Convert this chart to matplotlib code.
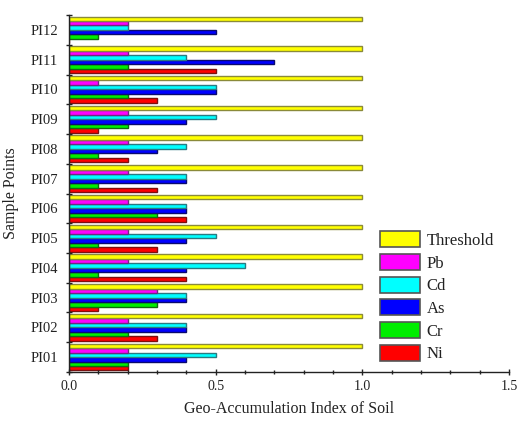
import numpy as np
import matplotlib
matplotlib.use("Agg")
import matplotlib.pyplot as plt
from matplotlib.ticker import MultipleLocator, FixedLocator

plt.rcParams['font.family'] = ['Liberation Serif', 'DejaVu Serif']
plt.rcParams['text.color'] = '#222222'
plt.rcParams['axes.labelcolor'] = '#222222'
plt.rcParams['xtick.color'] = '#222222'
plt.rcParams['ytick.color'] = '#222222'

# sample points, bottom to top
points = ["PI01", "PI02", "PI03", "PI04", "PI05", "PI06",
          "PI07", "PI08", "PI09", "PI10", "PI11", "PI12"]

# values (P01 -> P12)
ni = [0.2, 0.3, 0.1, 0.4, 0.3, 0.4, 0.3, 0.2, 0.1, 0.3, 0.5, 0.0]
cr = [0.2, 0.2, 0.3, 0.1, 0.1, 0.3, 0.1, 0.1, 0.2, 0.2, 0.2, 0.1]
as_ = [0.4, 0.4, 0.4, 0.4, 0.4, 0.4, 0.4, 0.3, 0.4, 0.5, 0.7, 0.5]
cd = [0.5, 0.4, 0.4, 0.6, 0.5, 0.4, 0.4, 0.4, 0.5, 0.5, 0.4, 0.2]
pb = [0.2, 0.2, 0.3, 0.2, 0.2, 0.2, 0.2, 0.2, 0.2, 0.1, 0.2, 0.2]
threshold = [1.0] * 12

# name, values, fill, edge
series = [("Ni", ni, "#ff0000", "#7a1010"),
          ("Cr", cr, "#00ee00", "#0d6a0d"),
          ("As", as_, "#0000ff", "#0a0a6e"),
          ("Cd", cd, "#00ffff", "#2a7a80"),
          ("Pb", pb, "#ff00ff", "#6a2a80"),
          ("Threshold", threshold, "#ffff00", "#8a8a3a")]

fig = plt.figure(figsize=(5.17, 4.23), dpi=100)
ax = fig.add_axes([0.1335, 0.1206, 0.851, 0.8439])

y = np.arange(len(points))
h = 0.15
handles = []
for i, (name, vals, col, ec) in enumerate(series):
    b = ax.barh(y + (i - 2.5) * h, vals, height=h, color=col,
                edgecolor=ec, linewidth=1.0, label=name)
    handles.append(b)

ax.set_xlim(0, 1.5)
ax.set_ylim(-0.5, len(points) - 0.5)

ax.xaxis.set_major_locator(MultipleLocator(0.5))
ax.xaxis.set_minor_locator(MultipleLocator(0.1))
ax.set_xticklabels([f"{v:.1f}" for v in ax.get_xticks()])

ax.set_yticks(y)
ax.set_yticklabels(points)
ax.yaxis.set_minor_locator(FixedLocator(np.arange(-0.5, len(points), 1.0)))
ax.tick_params(axis="y", which="major", length=0, labelsize=10.5, pad=8)
ax.tick_params(axis="y", which="minor", length=4, direction="inout", width=1)
ax.tick_params(axis="x", which="major", length=5, direction="inout",
               width=1, labelsize=10, pad=3)
ax.tick_params(axis="x", which="minor", length=3, direction="inout", width=1)

for s in ["top", "right"]:
    ax.spines[s].set_visible(False)
for s in ["left", "bottom"]:
    ax.spines[s].set_linewidth(1.0)
    ax.spines[s].set_color("#222222")

ax.set_xlabel("Geo-Accumulation Index of Soil", fontsize=11.5, labelpad=6)
ax.set_ylabel("Sample Points", fontsize=11.5, labelpad=8)

leg = ax.legend(handles[::-1], [s[0] for s in series][::-1],
                loc="lower right", bbox_to_anchor=(1.0, -0.015),
                frameon=False, fontsize=12, handlelength=2.4,
                handleheight=1.1, handletextpad=0.4, labelspacing=0.3)
for p in leg.get_patches():
    p.set_edgecolor("#555555")
    p.set_linewidth(1.2)

fig.savefig("out.png", dpi=100)
